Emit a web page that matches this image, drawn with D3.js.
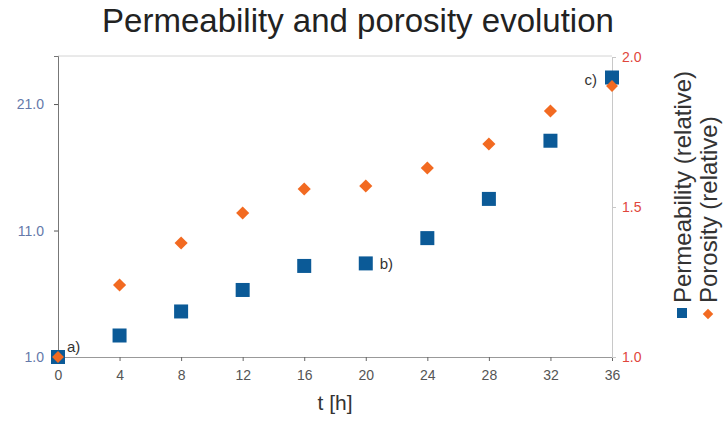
<!DOCTYPE html>
<html>
<head>
<meta charset="utf-8">
<script src="https://cdn.jsdelivr.net/npm/d3@7/dist/d3.min.js"></script>
<style>
  body { margin: 0; background: #fff; }
  svg { font-family: "Liberation Sans", Arial, sans-serif; }
</style>
</head>
<body>
<svg id="chart" width="726" height="425"></svg>
<script>
// data
const hours = [0, 4, 8, 12, 16, 20, 24, 28, 32, 36];
const permeability = [1.0, 2.7, 4.6, 6.3, 8.2, 8.4, 10.4, 13.5, 18.1, 23.1];
const porosity = [1.0, 1.24, 1.38, 1.48, 1.56, 1.57, 1.63, 1.71, 1.82, 1.92];
const xTicks = [0, 4, 8, 12, 16, 20, 24, 28, 32, 36];
const leftTicks = [1, 11, 21];
const rightTicks = [1.0, 1.5, 2.0];
const notes = [
    { label: "a)", i: 0 },
    { label: "b)", i: 5 },
    { label: "c)", i: 9 }
];

let svg = d3.select("#chart"),
    cs = {
        pallette: {
            perm: '#0b5a97',
            poro: '#f26a21',
            leftText: '#6479aa',
            rightText: '#e0463c'
        },
        left: 58, right: 612, top: 56, bottom: 357
    };

cs.x = d3.scaleLinear().domain([0, 36]).range([cs.left, cs.right]);
cs.yL = d3.scaleLinear().domain([1, 24.8]).range([cs.bottom, cs.top]);
cs.yR = d3.scaleLinear().domain([1, 2]).range([cs.bottom, cs.top + 1]);

// frame
svg.append("line").attr("x1", cs.left).attr("x2", cs.right).attr("y1", cs.top).attr("y2", cs.top)
    .attr("stroke", "#d4d4d4");

// x axis
let gx = svg.append("g").attr("transform", "translate(0," + cs.bottom + ")")
    .call(d3.axisBottom(cs.x).tickValues(xTicks).tickSize(4).tickPadding(9).tickFormat(d3.format("d")));
gx.select(".domain").attr("stroke", "#999");
gx.selectAll(".tick line").attr("stroke", "#666");
gx.selectAll("text").attr("fill", "#555").attr("font-size", 14).attr("font-family", "inherit");

// right axis
let gr = svg.append("g").attr("transform", "translate(" + cs.right + ",0)")
    .call(d3.axisRight(cs.yR).tickValues(rightTicks).tickSize(4).tickPadding(6).tickFormat(d3.format(".1f")));
gr.select(".domain").attr("stroke", "#c8c8c8");
gr.selectAll(".tick line").attr("stroke", "#c8c8c8");
gr.selectAll("text").attr("fill", cs.pallette.rightText).attr("font-size", 14).attr("font-family", "inherit");

// left axis
let gl = svg.append("g").attr("transform", "translate(" + cs.left + ",0)")
    .call(d3.axisLeft(cs.yL).tickValues(leftTicks).tickSize(4).tickPadding(10).tickFormat(d3.format(".1f")));
gl.select(".domain").attr("stroke", "#777");
gl.selectAll(".tick line").attr("stroke", "#555");
gl.selectAll("text").attr("fill", cs.pallette.leftText).attr("font-size", 14).attr("font-family", "inherit");

// porosity diamonds
svg.append("g").selectAll("path")
    .data(hours)
    .enter()
    .append("path")
    .attr("d", d3.symbol(d3.symbolDiamond2, 110))
    .attr("transform", (d, i) => "translate(" + cs.x(d) + "," + cs.yR(porosity[i]) + ")")
    .attr("fill", cs.pallette.poro);

// permeability squares
svg.append("g").selectAll("rect")
    .data(hours)
    .enter()
    .append("rect")
    .attr("x", d => cs.x(d) - 7)
    .attr("y", (d, i) => cs.yL(permeability[i]) - 7)
    .attr("width", 14).attr("height", 14)
    .attr("fill", cs.pallette.perm);

// first and last diamonds sit on top of the squares
svg.append("g").selectAll("path")
    .data([0, 9])
    .enter()
    .append("path")
    .attr("d", d3.symbol(d3.symbolDiamond2, 90))
    .attr("transform", i => "translate(" + cs.x(hours[i]) + "," + (cs.yR(porosity[i]) + (i ? 5 : 0)) + ")")
    .attr("fill", cs.pallette.poro);

// annotations
let noteOffset = { "a)": [9, -10], "b)": [14, 1], "c)": [-15, 2] };
svg.append("g").selectAll("text")
    .data(notes)
    .enter()
    .append("text")
    .attr("x", d => cs.x(hours[d.i]) + noteOffset[d.label][0])
    .attr("y", d => cs.yL(permeability[d.i]) + noteOffset[d.label][1] + 5)
    .attr("text-anchor", d => d.label === "c)" ? "end" : "start")
    .attr("font-size", 15)
    .attr("fill", "#333")
    .text(d => d.label);

// title and axis label
svg.append("text").attr("x", 358).attr("y", 32).attr("text-anchor", "middle")
    .attr("font-size", 33).attr("fill", "#222").text("Permeability and porosity evolution");
svg.append("text").attr("x", cs.x(18)).attr("y", 410).attr("text-anchor", "middle")
    .attr("font-size", 21).attr("fill", "#333").text("t [h]");

// legend, rotated
let legend = [
    { label: "Permeability (relative)", x: 682, color: cs.pallette.perm, shape: "square" },
    { label: "Porosity (relative)", x: 708, color: cs.pallette.poro, shape: "diamond" }
];
legend.forEach(l => {
    if (l.shape === "square") {
        svg.append("rect").attr("x", l.x - 5).attr("y", 308).attr("width", 10).attr("height", 10).attr("fill", l.color);
    } else {
        svg.append("path").attr("d", d3.symbol(d3.symbolDiamond2, 70))
            .attr("transform", "translate(" + l.x + ",314)").attr("fill", l.color);
    }
    svg.append("text")
        .attr("transform", "translate(" + (l.x + 9) + ",303) rotate(-90)")
        .attr("font-size", 24).attr("fill", "#333")
        .text(l.label);
});
</script>
</body>
</html>
